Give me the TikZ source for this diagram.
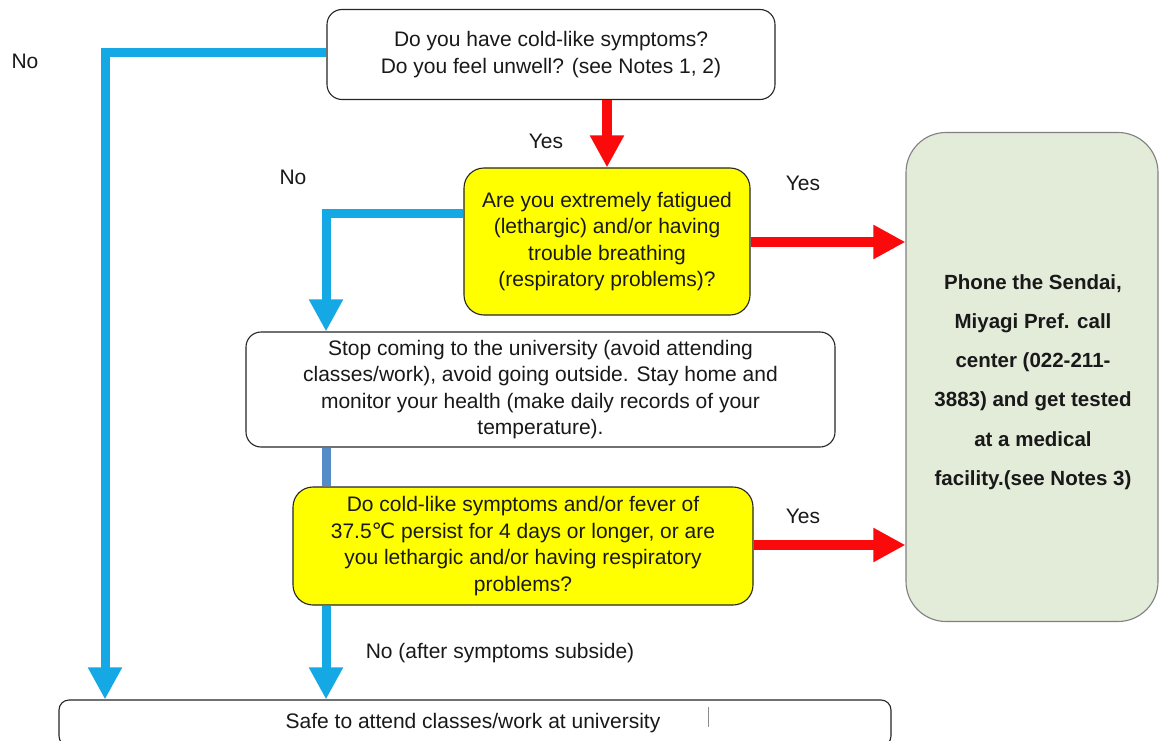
\documentclass[tikz,border=0pt]{standalone}
\usepackage{fontspec}
\setmainfont{Liberation Sans}
\newfontfamily\symfont{DejaVu Sans}
\usetikzlibrary{arrows.meta,calc}
\definecolor{flowblue}{RGB}{20,168,228}
\definecolor{steelblue}{RGB}{84,140,200}
\definecolor{flowred}{RGB}{250,10,10}
\definecolor{flowyellow}{RGB}{255,255,0}
\definecolor{flowgreen}{RGB}{227,235,217}
\definecolor{txt}{RGB}{25,25,25}
\tikzset{
  whitebox/.style={draw=black!85, line width=1.1pt, fill=white, rounded corners=15pt, align=center, text=txt, inner sep=0pt},
  yellowbox/.style={draw=black!85, line width=1.1pt, fill=flowyellow, rounded corners=20pt, align=center, text=txt, inner sep=0pt},
  greenbox/.style={draw=black!50, line width=1.1pt, fill=flowgreen, rounded corners=40pt, align=center, text=txt, inner sep=0pt},
  lbl/.style={text=txt, inner sep=0pt},
  bluearrow/.style={draw=flowblue, line width=9pt, -{Triangle[length=32pt,width=32pt]}},
  redarrow/.style={draw=flowred, line width=10pt, -{Triangle[length=32pt,width=32pt]}},
  steelline/.style={draw=steelblue, line width=9pt},
}
\begin{document}
\begin{tikzpicture}[x=1pt,y=-1pt,font=\fontsize{21}{26.5}\selectfont]
\useasboundingbox (0,0) rectangle (1159,741);
\clip (0,0) rectangle (1159,741);
\fill[white] (0,0) rectangle (1159,741);

% boxes
\node[whitebox, minimum width=448pt, minimum height=90pt] (top) at (551,54.5)
  {Do you have cold-like symptoms?\\Do you feel unwell? (see Notes 1, 2)};
\node[yellowbox, minimum width=286pt, minimum height=147pt] (q1) at (607,241.5)
  {Are you extremely fatigued\\(lethargic) and/or having\\trouble breathing\\(respiratory problems)?};
\node[whitebox, minimum width=589pt, minimum height=115pt] (stay) at (540.5,389.5)
  {Stop coming to the university (avoid attending\\classes/work), avoid going outside. Stay home and\\monitor your health (make daily records of your\\temperature).};
\node[yellowbox, minimum width=460pt, minimum height=118pt] (q2) at (523,546)
  {Do cold-like symptoms and/or fever of\\37.5{\symfont ℃} persist for 4 days or longer, or are\\you lethargic and/or having respiratory\\problems?};
\node[greenbox, minimum width=252pt, minimum height=489pt] (call) at (1032,377) {};
\node[lbl, align=center, font=\bfseries\fontsize{20.5}{39.3}\selectfont] (calltext) at (1033,382)
  {Phone the Sendai,\\Miyagi Pref. call\\center (022-211-\\3883) and get tested\\at a medical\\facility.(see Notes 3)};
\node[whitebox, rounded corners=10pt, minimum width=832pt, minimum height=46pt] (safe) at (475,723)
  {\hspace*{-4pt}Safe to attend classes/work at university};
\coordinate (cursor) at (708,707);
\draw[black!45, line width=0.8pt] (cursor) -- ++(0,20);

% helper coordinates
\coordinate (leftx) at (105,53);
\coordinate (midx) at (326,213);

% connectors
\draw[bluearrow, line join=miter] (top.west |- leftx) -| (safe.north -| leftx);
\draw[redarrow] (top.south -| q1.north) -- (q1.north);
\draw[bluearrow, line join=miter] (q1.west |- midx) -| (stay.north -| midx);
\draw[redarrow] (q1.east |- 0,242) -- (call.west |- 0,242);
\draw[steelline] (stay.south -| midx) -- (q2.north -| midx);
\draw[bluearrow] (q2.south -| midx) -- (safe.north -| midx);
\draw[redarrow] (q2.east |- 0,545) -- (call.west |- 0,545);

% labels
\node[lbl] (no1) at (25,61) {No};
\node[lbl] (yes1) at (546,141) {Yes};
\node[lbl] (no2) at (293,177) {No};
\node[lbl] (yes2) at (803,183) {Yes};
\node[lbl] (yes3) at (803,516) {Yes};
\node[lbl] (no3) at (500,653) {No (after symptoms subside)};
\end{tikzpicture}
\end{document}
